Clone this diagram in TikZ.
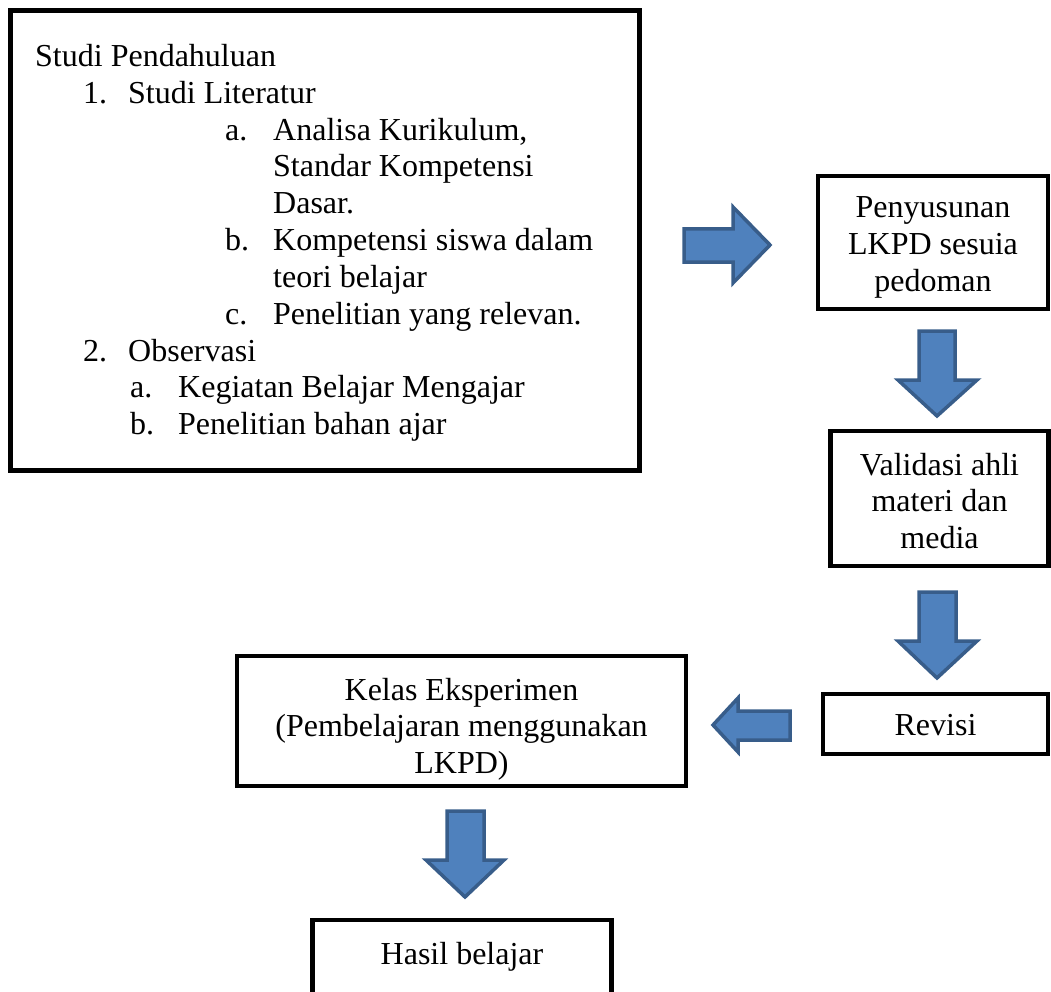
\documentclass[tikz,border=0pt]{standalone}
\usepackage{fontspec}
\setmainfont{Liberation Serif}
\begin{document}
\begin{tikzpicture}[x=1pt,y=-1pt,
  box/.style={draw=black,line width=4.5pt,fill=white,inner sep=0pt,align=center,
    font=\fontsize{32}{36.6}\selectfont},
  btxt/.style={inner sep=0pt,align=center,font=\fontsize{32}{36.6}\selectfont},
  txt/.style={anchor=base west,inner sep=0pt,font=\fontsize{32}{36.6}\selectfont},
  barrow/.style={fill=arrowfill,draw=arrowline,line width=3.5pt,line join=miter}]
\definecolor{arrowfill}{HTML}{4F81BD}
\definecolor{arrowline}{HTML}{385D8A}
\useasboundingbox (0,0) rectangle (1051,992);
% boxes
\node[box,minimum width=629pt,minimum height=460pt] (studi) at (325,240.5) {};
\node[box,minimum width=230pt,minimum height=133pt] (susun) at (933,242.5) {};
\node[btxt] (susunt) at (933,247.5) {Penyusunan\\LKPD sesuia\\pedoman};
\node[box,minimum width=218pt,minimum height=135pt] (valid) at (939.5,498.5) {};
\node[btxt] (validt) at (939.5,501) {Validasi ahli\\materi dan\\media};
\node[box,minimum width=225pt,minimum height=60pt] (revisi) at (935.5,724) {};
\node[txt,anchor=base] (revisit) at (935.5,735) {Revisi};
\node[box,minimum width=449pt,minimum height=130pt] (kelas) at (461.5,721) {};
\node[btxt] (kelast) at (461.5,729) {Kelas Eksperimen\\(Pembelajaran menggunakan\\LKPD)};
\node[box,minimum width=299pt,minimum height=75pt] (hasil) at (462,957.5) {};
\node[txt,anchor=base] (hasilt) at (462,964) {Hasil belajar};
% text of first box
\node[txt] (t0) at (35,67) {Studi Pendahuluan};
\node[txt] (n1) at (83,104) {1.};
\node[txt] (t1) at (128,104) {Studi Literatur};
\node[txt] (na) at (225,141) {a.};
\node[txt] (t2) at (273,141) {Analisa Kurikulum,};
\node[txt] (t3) at (273,177) {Standar Kompetensi};
\node[txt] (t4) at (273,214) {Dasar.};
\node[txt] (nb) at (225,251) {b.};
\node[txt] (t5) at (273,251) {Kompetensi siswa dalam};
\node[txt] (t6) at (273,287) {teori belajar};
\node[txt] (nc) at (225,324) {c.};
\node[txt] (t7) at (273,324) {Penelitian yang relevan.};
\node[txt] (n2) at (83,361) {2.};
\node[txt] (t8) at (128,361) {Observasi};
\node[txt] (nd) at (130,397) {a.};
\node[txt] (t9) at (178,397) {Kegiatan Belajar Mengajar};
\node[txt] (ne) at (130,434) {b.};
\node[txt] (t10) at (178,434) {Penelitian bahan ajar};
% block arrows
\draw[barrow] (684,229) -- (733,229) -- (733,207) -- (770,245) -- (733,283) -- (733,262) -- (684,262) -- cycle;
\draw[barrow] (919,331) -- (955,331) -- (955,380) -- (977,380) -- (937,416) -- (898,380) -- (919,380) -- cycle;
\draw[barrow] (919,592) -- (956,592) -- (956,641) -- (977,641) -- (937,678) -- (898,641) -- (919,641) -- cycle;
\draw[barrow] (790,711) -- (738,711) -- (738,698) -- (713,725) -- (738,752) -- (738,740) -- (790,740) -- cycle;
\draw[barrow] (447,811) -- (484,811) -- (484,860) -- (504,860) -- (465,897) -- (426,860) -- (447,860) -- cycle;
\end{tikzpicture}
\end{document}
